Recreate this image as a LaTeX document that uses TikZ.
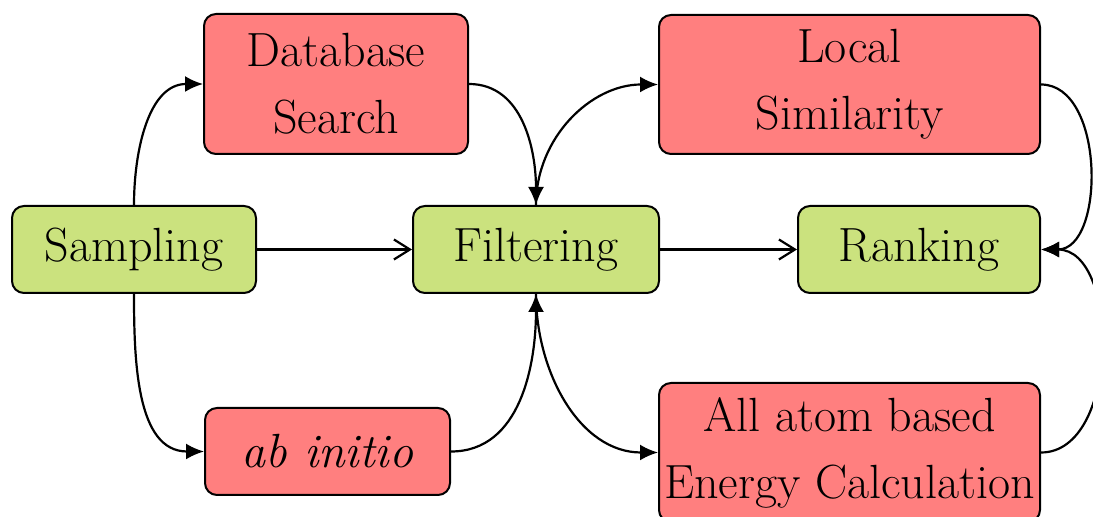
\documentclass[tikz,border=0pt]{standalone}
\usetikzlibrary{arrows.meta}
\definecolor{boxred}{RGB}{255,127,127}
\definecolor{boxgreen}{RGB}{203,226,126}
\begin{document}
\begin{tikzpicture}[x=0.5pt,y=-0.5pt,
  box/.style={draw=black, line width=1pt, rounded corners=6pt, inner sep=0pt, align=center,
    font=\fontsize{24}{33.5}\selectfont},
  redbox/.style={box, fill=boxred},
  greenbox/.style={box, fill=boxgreen},
  curvearrow/.style={line width=1.1pt, -{Latex[length=9pt,width=8pt]}},
  straightarrow/.style={line width=1.1pt, -{Straight Barb[length=8pt,width=10pt]}}]
\useasboundingbox (0,0) rectangle (1093,517);
\clip (0,0) rectangle (1093,517);
\node[greenbox, minimum width=122pt, minimum height=43.5pt] (samp) at (134,249.5) {Sampling};
\node[redbox, minimum width=132pt, minimum height=70pt] (db) at (336,84) {Database\\Search};
\node[redbox, minimum width=122.5pt, minimum height=43.5pt] (abi) at (327.5,451.5) {\itshape ab initio};
\node[greenbox, minimum width=123pt, minimum height=43.5pt] (filt) at (536,249.5) {Filtering};
\node[redbox, minimum width=190.5pt, minimum height=69.5pt] (ls) at (849.5,84.5) {Local\\Similarity};
\node[greenbox, minimum width=121pt, minimum height=43.5pt] (rank) at (919,249.5) {Ranking};
\node[redbox, minimum width=190.5pt, minimum height=69.5pt] (all) at (849.5,452.5) {All atom based\\Energy Calculation};

\draw[curvearrow] (samp.north) to[out=90,in=180] (db.west);
\draw[curvearrow] (samp.south) to[out=-90,in=180] (abi.west);
\draw[curvearrow] (db.east) to[out=0,in=90] (filt.north);
\draw[curvearrow] (abi.east) to[out=0,in=-90] (filt.south);
\draw[curvearrow] (filt.north) to[out=90,in=180] (ls.west);
\draw[curvearrow] (filt.south) to[out=-90,in=180] (all.west);
\draw[curvearrow] (ls.east) to[out=0,in=0] (rank.east);
\draw[curvearrow] (all.east) to[out=0,in=0] (rank.east);
\draw[straightarrow] (samp.east) -- (filt.west);
\draw[straightarrow] (filt.east) -- (rank.west);
\end{tikzpicture}
\end{document}
